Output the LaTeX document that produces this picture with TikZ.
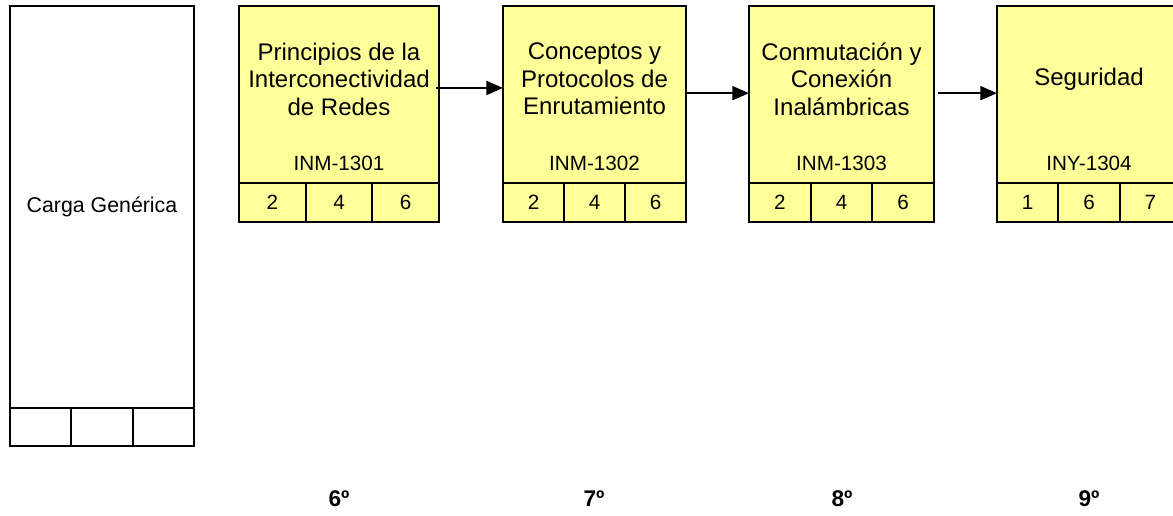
\documentclass[tikz,border=0pt]{standalone}
\usepackage{fontspec}
\setmainfont{Liberation Sans}
\usetikzlibrary{arrows.meta}
\definecolor{boxyellow}{HTML}{FFFF99}
\tikzset{
  frame/.style={draw=black, line width=1.5pt, inner sep=0pt, outer sep=0pt},
  topbox/.style={frame, fill=boxyellow, minimum height=132.75pt},
  cellbox/.style={frame, fill=boxyellow, minimum height=29.25pt, font=\fontsize{15.5}{18}\selectfont},
  whitecell/.style={frame, fill=white, minimum height=28.5pt},
  titletext/.style={align=center, font=\fontsize{18}{20.6}\selectfont, inner sep=0pt},
  codetext/.style={font=\fontsize{15.5}{18}\selectfont, inner sep=0pt},
  semtext/.style={font=\fontsize{17}{20}\selectfont\bfseries, inner sep=0pt},
  arr/.style={line width=1.5pt, -{Triangle[length=12.5pt,width=10.5pt]}}
}
\newcommand{\coursebox}[8]{%
  \pgfmathsetmacro{\cbw}{(#3-#2)*0.75}%
  \pgfmathsetmacro{\cbc}{(#3+#2)/2}%
  \node[topbox, minimum width=\cbw pt] (#1) at (\cbc,94.5) {};
  \node[titletext] (#1t) at (\cbc,79) {#4};
  \node[codetext] (#1c) at (\cbc,163) {#5};
  \node[cellbox, minimum width=\cbw pt/3, anchor=north west] (#1a) at (#1.south west) {#6};
  \node[cellbox, minimum width=\cbw pt/3, anchor=north west] (#1b) at (#1a.north east) {#7};
  \node[cellbox, minimum width=\cbw pt/3, anchor=north west] (#1d) at (#1b.north east) {#8};
}
\begin{document}
\begin{tikzpicture}[x=0.75pt, y=-0.75pt]
\useasboundingbox (0,0) rectangle (1173,516);
\clip (0,0) rectangle (1173,516);
\fill[white] (0,0) rectangle (1173,516);
% Carga generica
\node[frame, fill=white, minimum width=138pt, minimum height=301.5pt,
      font=\fontsize{16}{19}\selectfont] (cg) at (102,207) {Carga Genérica};
\node[whitecell, minimum width=46pt, anchor=north west] (cga) at (cg.south west) {};
\node[whitecell, minimum width=46pt, anchor=north west] (cgb) at (cga.north east) {};
\node[whitecell, minimum width=46pt, anchor=north west] (cgc) at (cgb.north east) {};
% courses
\coursebox{c1}{239}{439}{Principios de la\\Interconectividad\\de Redes}{INM-1301}{2}{4}{6}
\coursebox{c2}{503}{686}{Conceptos y\\Protocolos de\\Enrutamiento}{INM-1302}{2}{4}{6}
\coursebox{c3}{749}{934}{Conmutación y\\Conexión\\Inalámbricas}{INM-1303}{2}{4}{6}
\coursebox{c4}{997}{1181}{Seguridad}{INY-1304}{1}{6}{7}
% arrows
\draw[arr] ([yshift=4.9pt,xshift=-2pt]c1.east) -- ([yshift=4.9pt]c2.west);
\draw[arr] ([yshift=1pt]c2.east) -- ([yshift=1pt]c3.west);
\draw[arr] ([yshift=1pt,xshift=3pt]c3.east) -- ([yshift=1pt]c4.west);
% semesters
\node[semtext] (s6) at (339,499) {6º};
\node[semtext] (s7) at (594,499) {7º};
\node[semtext] (s8) at (842,499) {8º};
\node[semtext] (s9) at (1089,499) {9º};
\end{tikzpicture}
\end{document}
